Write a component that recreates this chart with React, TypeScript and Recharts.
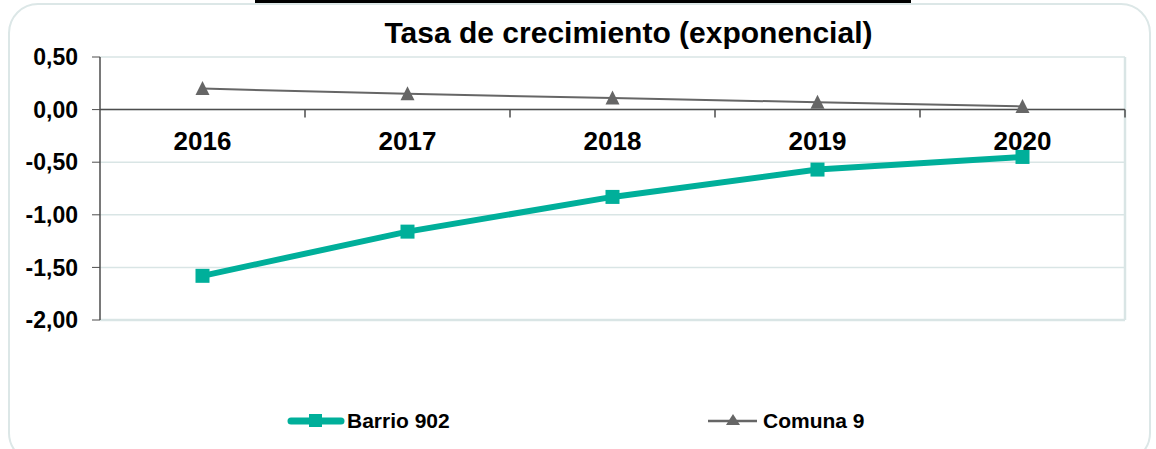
import { LineChart, Line, XAxis, YAxis, CartesianGrid, ReferenceLine, ReferenceDot } from 'recharts'

const title = 'Tasa de crecimiento (exponencial)'
const years = [2016, 2017, 2018, 2019, 2020]
const barrio902 = [-1.58, -1.16, -0.83, -0.57, -0.45]
const comuna9 = [0.2, 0.15, 0.11, 0.07, 0.03]
const yTicks = [-2, -1.5, -1, -0.5, 0, 0.5]
const seriesNames = ['Barrio 902', 'Comuna 9']

const TEAL = '#00af9a'
const GREY = '#666666'
const AXIS = '#4d4d4d'
const GRID = '#d9e5e5'
const FONT = 'Arial, "Liberation Sans", Helvetica, sans-serif'

const data = years.map((year, i) => ({
  year,
  barrio: barrio902[i],
  comuna: comuna9[i],
}))

// band edges between categories, where the little axis ticks go
const bandEdges = years.map((y) => y + 0.5)

function fmt(v: number): string {
  return v.toFixed(2).replace('.', ',')
}

function SquareDot(p: any) {
  const s = 14
  return <rect key={`sq-${p.index}`} x={p.cx - s / 2} y={p.cy - s / 2} width={s} height={s} fill={TEAL} />
}

function TriangleDot(p: any) {
  const h = 13
  const w = 14
  return (
    <polygon
      key={`tri-${p.index}`}
      points={`${p.cx},${p.cy - h / 2 - 1} ${p.cx - w / 2},${p.cy + h / 2} ${p.cx + w / 2},${p.cy + h / 2}`}
      fill={GREY}
    />
  )
}

const legendText = { fontSize: 21, fontWeight: 'bold' as const, color: '#000' }

export default function App() {
  return (
    <div style={{ position: 'absolute', left: 0, top: 0, width: 1156, height: 449, overflow: 'hidden', background: '#fff', fontFamily: FONT }}>
      <div style={{ position: 'absolute', left: 255, top: 0, width: 656, height: 3, background: '#000' }} />
      <div
        style={{
          position: 'absolute',
          left: 8,
          top: 3,
          width: 1143,
          height: 460,
          border: '2px solid #dce7e7',
          borderRadius: 30,
          boxSizing: 'border-box',
        }}
      />
      <div
        style={{
          position: 'absolute',
          left: 0,
          top: 16,
          width: 1257,
          textAlign: 'center',
          fontSize: 30,
          fontWeight: 'bold',
          color: '#000',
          lineHeight: '34px',
        }}
      >
        {title}
      </div>

      <div style={{ position: 'absolute', left: 0, top: 0 }}>
        <LineChart width={1156} height={449} data={data} margin={{ top: 57, right: 31, bottom: 129, left: 8 }}>
          <CartesianGrid vertical={false} stroke={GRID} strokeWidth={1.5} />
          <XAxis dataKey="year" type="number" domain={[2015.5, 2020.5]} hide />
          <YAxis
            domain={[-2, 0.5]}
            ticks={yTicks}
            width={92}
            tickSize={8}
            tickMargin={14}
            tickFormatter={fmt}
            axisLine={{ stroke: AXIS, strokeWidth: 1.5 }}
            tickLine={{ stroke: AXIS }}
            tick={{ fill: '#000', fontSize: 23, fontWeight: 'bold', fontFamily: FONT }}
          />
          <ReferenceLine x={2020.5} stroke={GRID} strokeWidth={2.5} />
          <ReferenceLine y={-2} stroke={GRID} strokeWidth={2.5} />
          <ReferenceLine y={0} stroke={AXIS} strokeWidth={1.5} />
          {bandEdges.map((e) => (
            <ReferenceDot
              key={`edge-${e}`}
              x={e}
              y={0}
              r={0}
              shape={(p: any) => <line x1={p.cx} y1={p.cy} x2={p.cx} y2={p.cy + 8} stroke={AXIS} strokeWidth={1.5} />}
            />
          ))}
          {years.map((y) => (
            <ReferenceDot
              key={`lbl-${y}`}
              x={y}
              y={0}
              r={0}
              shape={(p: any) => (
                <text x={p.cx} y={p.cy + 40} textAnchor="middle" fontSize={26} fontWeight="bold" fontFamily={FONT} fill="#000">
                  {y}
                </text>
              )}
            />
          ))}
          <Line
            dataKey="comuna"
            name={seriesNames[1]}
            stroke={GREY}
            strokeWidth={2}
            dot={TriangleDot}
            activeDot={false}
            isAnimationActive={false}
          />
          <Line
            dataKey="barrio"
            name={seriesNames[0]}
            stroke={TEAL}
            strokeWidth={6}
            dot={SquareDot}
            activeDot={false}
            isAnimationActive={false}
          />
        </LineChart>
      </div>

      {/* legend */}
      <div style={{ position: 'absolute', left: 286, top: 409, display: 'flex', alignItems: 'center', ...legendText }}>
        <svg width={61} height={24}>
          <line x1={5} y1={12} x2={55} y2={12} stroke={TEAL} strokeWidth={7} strokeLinecap="round" />
          <rect x={23} y={5} width={13} height={13} fill={TEAL} />
        </svg>
        <span>{seriesNames[0]}</span>
      </div>
      <div style={{ position: 'absolute', left: 708, top: 409, display: 'flex', alignItems: 'center', ...legendText }}>
        <svg width={55} height={24}>
          <line x1={0} y1={12} x2={49} y2={12} stroke={GREY} strokeWidth={2.5} />
          <polygon points="25,5 18,16 32,16" fill={GREY} />
        </svg>
        <span>{seriesNames[1]}</span>
      </div>
    </div>
  )
}
